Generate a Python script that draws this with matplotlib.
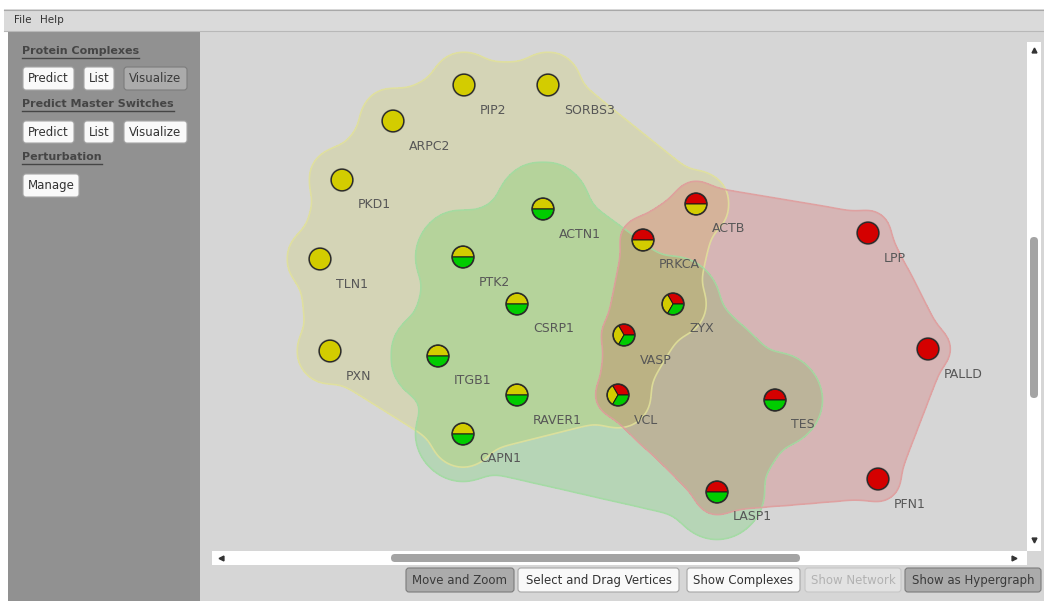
import numpy as np
import matplotlib
matplotlib.use('Agg')
import matplotlib.pyplot as plt
from matplotlib.patches import Wedge, Circle, Rectangle, FancyBboxPatch
from matplotlib.path import Path
from matplotlib.tri import Triangulation

# proteins, their canvas positions (px) and complexes they belong to
names = ['PIP2', 'SORBS3', 'ARPC2', 'PKD1', 'TLN1', 'PXN',
         'ACTN1', 'PTK2', 'CSRP1', 'ITGB1', 'RAVER1', 'CAPN1',
         'ACTB', 'PRKCA', 'ZYX', 'VASP', 'VCL', 'TES', 'LASP1',
         'LPP', 'PALLD', 'PFN1']
node_x = np.array([464, 548, 393, 342, 320, 330,
                   543, 463, 517, 438, 517, 463,
                   696, 643, 673, 624, 618, 775, 717,
                   868, 928, 878], float)
node_y = np.array([85, 85, 121, 180, 259, 351,
                   209, 257, 304, 356, 395, 434,
                   204, 240, 304, 335, 395, 400, 492,
                   233, 349, 479], float)
# pie slices, counter-clockwise from 3 o'clock (Y=yellow, G=green, R=red complex)
node_cx = ['Y', 'Y', 'Y', 'Y', 'Y', 'Y',
           'YG', 'YG', 'YG', 'YG', 'YG', 'YG',
           'RY', 'RY', 'RYG', 'RYG', 'RYG', 'RG', 'RG',
           'R', 'R', 'R']

node_col = {'Y': '#d3cc00', 'G': '#00cc00', 'R': '#d40000'}

# hull look: fill, edge, node bubble radius, edge offset, max triangle edge
hull_style = {
    'Y': dict(fc=(0.80, 0.80, 0.0), a=0.15, ec='#e2e29c', Rn=34, Re=22, L=195),
    'G': dict(fc=(0.08, 0.82, 0.08), a=0.16, ec='#a2dca2', Rn=48, Re=32, L=265),
    'R': dict(fc=(0.86, 0.08, 0.08), a=0.17, ec='#e09e9e', Rn=24, Re=19, L=270),
}

fig = plt.figure(figsize=(10.44, 6.01), dpi=100, facecolor='white')
ax = fig.add_axes([0, 0, 1, 1])
ax.set_xlim(0, 1044)
ax.set_ylim(601, 0)
ax.axis('off')

# ---- window chrome
ax.add_patch(Rectangle((4, 9), 1040, 22, fc='#dadada', ec='none', zorder=0))
ax.plot([4, 1044], [9.5, 9.5], color='#a8a8a8', lw=0.8, zorder=1)
ax.plot([4, 1044], [30.5, 30.5], color='#b8b8b8', lw=0.8, zorder=1)
ax.text(14, 20, 'File', fontsize=7.5, color='#333333', va='center')
ax.text(40, 20, 'Help', fontsize=7.5, color='#333333', va='center')

ax.add_patch(Rectangle((8, 31), 192, 570, fc='#919191', ec='none', zorder=0))
ax.add_patch(Rectangle((200, 31), 844, 570, fc='#d6d6d6', ec='none', zorder=0))


def button(x0, y0, x1, y1, label, state='normal'):
    fc, ec, tc = '#f9f9f9', '#a6a6a6', '#333333'
    if state == 'pressed':
        fc, ec, tc = '#ababab', '#7c7c7c', '#3a3a3a'
    elif state == 'disabled':
        fc, ec, tc = '#e2e2e2', '#c6c6c6', '#b2b2b2'
    ax.add_patch(FancyBboxPatch((x0, y0), x1 - x0, y1 - y0,
                                boxstyle='round,pad=0,rounding_size=3',
                                fc=fc, ec=ec, lw=0.8, zorder=6))
    ax.text((x0 + x1) / 2, (y0 + y1) / 2 + 0.5, label, fontsize=8.5, color=tc,
            ha='center', va='center', zorder=7)


renderer = fig.canvas.get_renderer()
inv = ax.transData.inverted()


def title(x, y, s):
    t = ax.text(x, y, s, fontsize=8, fontweight='bold', color='#454545',
                va='center', zorder=7)
    bb = t.get_window_extent(renderer=renderer)
    (xa, _), (xb, _) = inv.transform([[bb.x0, bb.y0], [bb.x1, bb.y1]])
    ax.plot([xa, xb], [y + 7, y + 7], color='#454545', lw=1.0, zorder=7)


title(22, 51, 'Protein Complexes')
button(23, 67, 74, 90, 'Predict')
button(84, 67, 114, 90, 'List')
button(124, 67, 187, 90, 'Visualize', 'pressed')
title(22, 104, 'Predict Master Switches')
button(23, 121, 74, 143, 'Predict')
button(84, 121, 114, 143, 'List')
button(124, 121, 187, 143, 'Visualize')
title(22, 157, 'Perturbation')
button(23, 174, 79, 197, 'Manage')

# ---- hulls of the complexes
GX, GY = np.meshgrid(np.arange(200, 1045, 2.0), np.arange(31, 561, 2.0))
pts = np.c_[GX.ravel(), GY.ravel()]


def seg_dist(p, a, b):
    ab = b - a
    t = np.clip(((p - a) @ ab) / (ab @ ab), 0, 1)
    return np.hypot(*(p - (a + t[:, None] * ab)).T)


def blur(m, s):
    x = np.arange(-3 * s, 3 * s + 1)
    k = np.exp(-x ** 2 / (2.0 * s * s))
    k /= k.sum()
    m = np.apply_along_axis(lambda r: np.convolve(r, k, mode='same'), 0, m)
    return np.apply_along_axis(lambda r: np.convolve(r, k, mode='same'), 1, m)


def hull_field(code, Rn, Re, L):
    idx = [i for i, c in enumerate(node_cx) if code in c]
    px, py = node_x[idx], node_y[idx]
    inside = np.zeros(len(pts), bool)
    tri = Triangulation(px, py)
    edges = set()
    for t in tri.triangles:
        v = np.c_[px[t], py[t]]
        lens = [np.hypot(*(v[j] - v[(j + 1) % 3])) for j in range(3)]
        if max(lens) <= L:
            inside |= Path(v).contains_points(pts)
            for j in range(3):
                edges.add(tuple(sorted((t[j], t[(j + 1) % 3]))))
    for a, b in edges:
        inside |= seg_dist(pts, np.array([px[a], py[a]]), np.array([px[b], py[b]])) <= Re
    for x, y in zip(px, py):
        inside |= np.hypot(pts[:, 0] - x, pts[:, 1] - y) <= Rn
    return blur(inside.reshape(GX.shape).astype(float), 4)


for code in ['Y', 'G', 'R']:
    st = hull_style[code]
    F = hull_field(code, st['Rn'], st['Re'], st['L'])
    ax.contourf(GX, GY, F, levels=[0.5, 10], colors=[st['fc']], alpha=st['a'], zorder=2)
    ax.contour(GX, GY, F, levels=[0.5], colors=[st['ec']], linewidths=1.2,
               alpha=0.85, zorder=3)

# ---- nodes
r = 10.8
for name, x, y, cx in zip(names, node_x, node_y, node_cx):
    ax.add_patch(Circle((x, y), r + 1.2, fc=(0, 0, 0, 0.22), ec='none', zorder=4))
    n = len(cx)
    if n == 1:
        ax.add_patch(Circle((x, y), r, fc=node_col[cx], ec='none', zorder=5))
    else:
        for k, c in enumerate(cx):
            t1, t2 = 360.0 * k / n, 360.0 * (k + 1) / n
            ax.add_patch(Wedge((x, y), r, -t2, -t1, fc=node_col[c], ec='#1a1a1a',
                               lw=0.7, zorder=5))
    ax.add_patch(Circle((x, y), r, fc='none', ec='#2a2a2a', lw=1.0, zorder=5))
    ax.text(x + 16, y + 25, name, fontsize=9, color='#575757', ha='left',
            va='center', zorder=5)

# ---- scrollbars
ax.add_patch(Rectangle((1027, 42), 14, 509, fc='white', ec='none', zorder=6))
ax.add_patch(FancyBboxPatch((1030, 237), 8, 161, boxstyle='round,pad=0,rounding_size=4',
                            fc='#a4a4a4', ec='none', zorder=7))
ax.plot([1034], [50], marker='^', ms=3.5, color='#333333', zorder=7)
ax.plot([1034], [540], marker='v', ms=3.5, color='#333333', zorder=7)

ax.add_patch(Rectangle((212, 551), 815, 14, fc='white', ec='none', zorder=6))
ax.add_patch(FancyBboxPatch((391, 554), 409, 8, boxstyle='round,pad=0,rounding_size=4',
                            fc='#a4a4a4', ec='none', zorder=7))
ax.plot([221], [558], marker='<', ms=3.5, color='#333333', zorder=7)
ax.plot([1014], [558], marker='>', ms=3.5, color='#333333', zorder=7)

# ---- bottom buttons
button(406, 568, 514, 592, 'Move and Zoom', 'pressed')
button(518, 568, 679, 592, 'Select and Drag Vertices')
button(687, 568, 800, 592, 'Show Complexes')
button(805, 568, 901, 592, 'Show Network', 'disabled')
button(905, 568, 1041, 592, 'Show as Hypergraph', 'pressed')

fig.savefig('out.png', dpi=100, facecolor='white')
